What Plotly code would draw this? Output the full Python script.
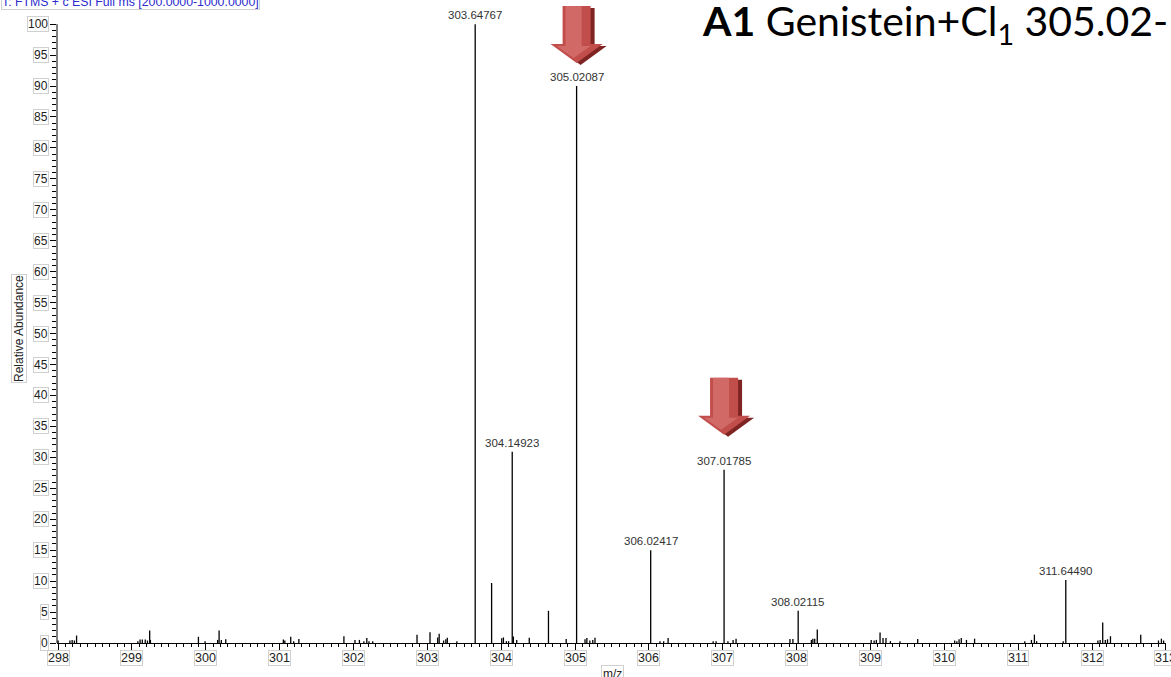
import plotly.graph_objects as go

# ---------------- data ----------------
# labelled peaks (m/z, relative abundance)
label_mz = [303.64767, 305.02087, 304.14923, 307.01785, 306.02417, 311.64490, 308.02115]
label_int = [100.0, 90.0, 30.9, 28.0, 15.0, 10.2, 5.2]

# unlabelled minor peaks
noise_mz = [298.00, 298.16, 298.19, 298.22, 298.25,
            299.08, 299.11, 299.14, 299.18, 299.21, 299.24, 299.25,
            299.90, 299.99, 300.16, 300.18, 300.21, 300.27,
            301.05, 301.07, 301.15, 301.19, 301.26,
            301.87, 302.02, 302.08, 302.14, 302.18, 302.21, 302.26,
            302.86, 303.036, 303.14, 303.16, 303.22, 303.25, 303.27, 303.40,
            303.87, 304.007, 304.03, 304.07, 304.10, 304.165, 304.21, 304.38, 304.64, 304.88,
            305.135, 305.16, 305.20, 305.24, 305.27,
            306.15, 306.20, 306.26,
            306.87, 306.91, 307.07, 307.14, 307.18,
            307.91, 307.95, 308.20, 308.22, 308.245, 308.28,
            309.01, 309.05, 309.08, 309.13, 309.17, 309.21, 309.27, 309.40, 309.64,
            310.14, 310.17, 310.20, 310.23, 310.30, 310.41,
            311.09, 311.18, 311.22, 311.25, 311.61,
            312.08, 312.11, 312.145, 312.18, 312.21, 312.25, 312.66,
            312.90, 312.94, 312.97]
noise_int = [0.4, 0.4, 0.5, 0.4, 1.2,
             0.3, 0.55, 0.55, 0.55, 0.4, 2.0, 0.5,
             1.0, 0.3, 0.5, 2.0, 0.5, 0.6,
             0.55, 0.4, 1.0, 0.3, 0.65,
             1.1, 0.5, 0.5, 0.3, 0.8, 0.3, 0.3,
             1.35, 1.75, 0.9, 1.5, 0.4, 0.6, 0.85, 0.3,
             9.7, 0.75, 0.9, 0.3, 0.3, 1.05, 0.5, 0.85, 5.2, 0.65,
             0.6, 0.8, 0.4, 0.5, 0.85,
             0.3, 0.3, 0.8,
             0.3, 0.3, 0.3, 0.5, 0.7,
             0.65, 0.65, 0.5, 0.7, 0.7, 2.2,
             0.5, 0.4, 0.5, 1.7, 0.8, 0.8, 0.3, 0.3, 0.65,
             0.4, 0.3, 0.6, 0.8, 0.5, 0.7,
             0.3, 0.5, 1.35, 0.3, 0.3,
             0.4, 0.5, 3.3, 0.5, 0.6, 1.1, 1.35,
             0.4, 0.7, 0.4]

x_ticks = [298, 299, 300, 301, 302, 303, 304, 305, 306, 307, 308, 309, 310, 311, 312, 313]
y_ticks = [0, 5, 10, 15, 20, 25, 30, 35, 40, 45, 50, 55, 60, 65, 70, 75, 80, 85, 90, 95, 100]
arrow_targets = [305.02087, 307.01785]

header_text = "T: FTMS + c ESI Full ms [200.0000-1000.0000]"
title_text = "<b>A1</b> Genistein+Cl<sub>1</sub> 305.02-"

# ---------------- layout geometry ----------------
W, H = 1171, 677
ML, MR, MT, MB = 57, 5, 0, 34
XR = [297.985, 313.002]
YR = [0, 103.9]
pw, ph = W - ML - MR, H - MT - MB
px_x = (XR[1] - XR[0]) / pw   # data per pixel
px_y = (YR[1] - YR[0]) / ph

FONT = "Liberation Sans, Arial, sans-serif"

# stick spectrum
sx, sy = [], []
for m, v in zip(noise_mz + label_mz, noise_int + label_int):
    sx += [m, m, None]
    sy += [0, v, None]

fig = go.Figure()
fig.add_trace(go.Scatter(x=sx, y=sy, mode="lines",
                         line=dict(color="black", width=1.3),
                         hoverinfo="skip", showlegend=False))

annotations = []
# peak labels
for m, v in zip(label_mz, label_int):
    annotations.append(dict(x=m, y=v, xref="x", yref="y", text=f"{m:.5f}",
                            showarrow=False, yanchor="bottom", yshift=1,
                            font=dict(family=FONT, size=11.5, color="#333333")))
# y tick labels (boxed)
for t in y_ticks:
    annotations.append(dict(x=0, y=t, xref="paper", yref="y", text=str(t),
                            showarrow=False, xanchor="right", xshift=-8,
                            bordercolor="#d0d0d0", borderwidth=1, borderpad=0,
                            bgcolor="white",
                            font=dict(family=FONT, size=12, color="#222222")))
# x tick labels (boxed)
for t in x_ticks:
    annotations.append(dict(x=t, y=0, xref="x", yref="paper", text=str(t),
                            showarrow=False, yanchor="top", yshift=-7,
                            bordercolor="#d0d0d0", borderwidth=1, borderpad=0,
                            bgcolor="white",
                            font=dict(family=FONT, size=12.5, color="#222222")))
# axis titles
annotations.append(dict(x=(19 - ML) / pw, y=(H - MB - 329) / ph, xref="paper", yref="paper",
                        text="Relative Abundance", textangle=-90, showarrow=False,
                        xanchor="center", yanchor="middle",
                        bordercolor="#d0d0d0", borderwidth=1, borderpad=0,
                        font=dict(family=FONT, size=12, color="#222222")))
annotations.append(dict(x=(612 - ML) / pw, y=(H - MB - 674) / ph, xref="paper", yref="paper",
                        text="m/z", showarrow=False, yanchor="middle",
                        bordercolor="#d0d0d0", borderwidth=1, borderpad=1,
                        font=dict(family=FONT, size=12, color="#222222")))
# header
annotations.append(dict(x=(1 - ML) / pw, y=(H - MB - 2) / ph, xref="paper", yref="paper",
                        text=header_text, showarrow=False, xanchor="left", yanchor="middle",
                        bordercolor="#d0d0d0", borderwidth=1, borderpad=0,
                        font=dict(family=FONT, size=12.3, color="#2b2bd0")))
# big title
annotations.append(dict(x=(700 - ML) / pw, y=(H - MB - 23) / ph, xref="paper", yref="paper",
                        text=title_text, showarrow=False, xanchor="left", yanchor="middle",
                        font=dict(family="Lato, Carlito, sans-serif", size=41, color="black")))

shapes = []
# y axis line only from 0 to 100
shapes.append(dict(type="line", xref="paper", yref="y", x0=0, x1=0, y0=0, y1=100,
                   line=dict(color="black", width=1)))


def arrow_path(cx, tip, dx=0.0, dy=0.0, sw=14, hw=26, hh=19, tot=57):
    """arrow pointing down, tip at (cx, tip); sizes in pixels converted to data units"""
    s = sw * px_x
    h = hw * px_x
    y_tip = tip + dy
    y_hb = tip + hh * px_y + dy
    y_top = tip + tot * px_y + dy
    c = cx + dx
    pts = [(c - s, y_top), (c + s, y_top), (c + s, y_hb), (c + h, y_hb),
           (c, y_tip), (c - h, y_hb), (c - s, y_hb)]
    return "M " + " L ".join(f"{a},{b}" for a, b in pts) + " Z"


tip_offsets_px = [23, 35]
for target, off in zip(arrow_targets, tip_offsets_px):
    v = label_int[label_mz.index(target)]
    tip = v + off * px_y
    # shadow
    shapes.append(dict(type="path", xref="x", yref="y", layer="above",
                       path=arrow_path(target, tip, dx=4 * px_x, dy=-2 * px_y),
                       fillcolor="#7e2422", line=dict(width=0)))
    # body
    shapes.append(dict(type="path", xref="x", yref="y", layer="above",
                       path=arrow_path(target, tip),
                       fillcolor="#c24e4b", line=dict(width=0)))
    # soft highlight (left side lighter)
    shapes.append(dict(type="path", xref="x", yref="y", layer="above",
                       path=arrow_path(target - 3 * px_x, tip + 5 * px_y,
                                       sw=8, hw=17, hh=12, tot=52),
                       fillcolor="#d4706c", line=dict(width=0), opacity=0.85))

fig.update_layout(
    width=W, height=H,
    margin=dict(l=ML, r=MR, t=MT, b=MB, autoexpand=False),
    paper_bgcolor="white", plot_bgcolor="white",
    annotations=annotations, shapes=shapes,
    xaxis=dict(range=XR, showgrid=False, zeroline=False, showline=True,
               linecolor="black", linewidth=1,
               tickmode="array", tickvals=x_ticks, showticklabels=False,
               ticks="outside", ticklen=6, tickcolor="black", tickwidth=1,
               minor=dict(dtick=0.1, tick0=298, ticks="outside", ticklen=3,
                          tickcolor="black", tickwidth=1, showgrid=False)),
    yaxis=dict(range=YR, showgrid=False, zeroline=False, showline=False,
               tickmode="array", tickvals=y_ticks, showticklabels=False,
               ticks="outside", ticklen=6, tickcolor="black", tickwidth=1,
               minor=dict(tickmode="array", tickvals=list(range(0, 101)),
                          ticks="outside", ticklen=4,
                          tickcolor="black", tickwidth=1, showgrid=False)),
)

fig.write_html("out.html")
